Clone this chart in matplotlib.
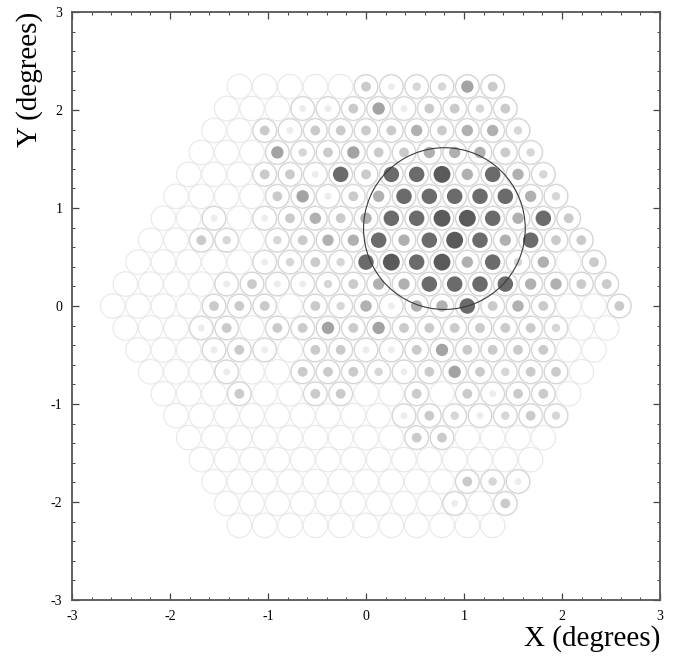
import numpy as np
import matplotlib
matplotlib.use('Agg')
import matplotlib.pyplot as plt
from matplotlib.patches import Circle
from matplotlib.collections import PatchCollection
from matplotlib.ticker import MultipleLocator

# ---- data: pixel amplitude level per camera row (left -> right) ----
row_ids = list(range(10, -11, -1))
amp_r10 = [0,0,0,0,0,3,1,2,2,5,3]
amp_r9  = [0,0,0,1,1,3,5,1,3,3,2,3]
amp_r8  = [0,0,3,1,3,3,3,3,4,3,4,4,2]
amp_r7  = [0,0,0,5,2,3,5,3,3,4,4,4,3,2]
amp_r6  = [0,0,0,3,3,1,7,3,7,7,8,4,7,4,2]
amp_r5  = [0,0,0,0,3,5,1,3,4,7,7,7,7,7,4,2]
amp_r4  = [0,0,1,0,1,3,4,3,4,7,7,8,8,7,4,7,3]
amp_r3  = [0,0,3,2,0,2,3,4,4,7,4,7,8,7,4,7,3,3]
amp_r2  = [0,0,0,0,0,1,2,3,2,7,8,7,8,4,7,2,4,0,3]
amp_r1  = [0,0,0,0,1,3,1,1,2,3,4,4,7,7,7,7,4,4,3,3]
amp_r0  = [0,0,0,0,3,3,3,0,3,2,4,1,4,4,7,3,4,3,0,0,3]
amp_m1  = [0,0,0,1,3,0,3,3,5,3,5,3,3,3,3,3,3,2,0,0]
amp_m2  = [0,0,0,1,3,1,0,3,3,1,1,3,5,3,3,3,3,0,0]
amp_m3  = [0,0,0,1,0,0,3,3,3,2,1,3,5,3,2,3,3,0]
amp_m4  = [0,0,0,3,0,0,3,3,0,0,3,0,3,1,3,3,0]
amp_m5  = [0,0,0,0,0,0,0,0,0,1,3,2,1,2,3,2]
amp_m6  = [0,0,0,0,0,0,0,0,0,3,3,0,0,0,0]
amp_m7  = [0,0,0,0,0,0,0,0,0,0,0,0,0,0]
amp_m8  = [0,0,0,0,0,0,0,0,0,0,3,2,1]
amp_m9  = [0,0,0,0,0,0,0,0,0,1,0,3]
amp_m10 = [0,0,0,0,0,0,0,0,0,0,0]
rows = [amp_r10, amp_r9, amp_r8, amp_r7, amp_r6, amp_r5, amp_r4, amp_r3, amp_r2,
        amp_r1, amp_r0, amp_m1, amp_m2, amp_m3, amp_m4, amp_m5, amp_m6, amp_m7,
        amp_m8, amp_m9, amp_m10]

fit_center = (0.80, 0.79)
fit_radius = 0.825
tick_vals = [-3, -2, -1, 0, 1, 2, 3]

# ---- styles ----
pitch = 0.2585
level_gray = {1: '#ececec', 2: '#d6d6d6', 3: '#cacaca', 4: '#b0b0b0', 5: '#a3a3a3',
              6: '#888888', 7: '#6b6b6b', 8: '#5a5a5a'}
level_rad = {1: 0.035, 2: 0.043, 3: 0.050, 4: 0.058, 5: 0.063, 6: 0.072, 7: 0.079, 8: 0.086}

plt.rcParams['font.family'] = ['Liberation Serif', 'DejaVu Serif']
plt.rcParams['axes.unicode_minus'] = False
fig = plt.figure(figsize=(6.74, 6.56), dpi=100)
ax = fig.add_axes([72/674, 56/656, 588/674, 588/656])

faint, active, dots, dcols = [], [], [], []
for k, vals in zip(row_ids, rows):
    n = len(vals)
    y = k * pitch * np.sqrt(3) / 2
    for j, v in enumerate(vals):
        x = (j - (n - 1) / 2) * pitch
        faint.append(Circle((x, y), 0.125))
        if v > 0:
            active.append(Circle((x, y), 0.119))
            dots.append(Circle((x, y), level_rad[v]))
            dcols.append(level_gray[v])

ax.add_collection(PatchCollection(faint, facecolor='none', edgecolor='#e8e8e8', linewidth=0.8))
ax.add_collection(PatchCollection(active, facecolor='none', edgecolor='#cdcdcd', linewidth=0.6))
ax.add_collection(PatchCollection(dots, facecolors=dcols, edgecolor='none'))
ax.add_patch(Circle(fit_center, fit_radius, facecolor='none', edgecolor='#3a3a3a', linewidth=0.8))

ax.set_xlim(-3, 3)
ax.set_ylim(-3, 3)
ax.set_aspect('equal', adjustable='box')
ax.set_xticks(tick_vals)
ax.set_yticks(tick_vals)
ax.xaxis.set_minor_locator(MultipleLocator(0.2))
ax.yaxis.set_minor_locator(MultipleLocator(0.2))
ax.tick_params(which='both', direction='in', top=True, right=True, color='#444444',
               labelsize=10, pad=7)
ax.tick_params(which='major', length=5, width=0.9)
ax.tick_params(which='minor', length=2.5, width=0.7)
for s in ax.spines.values():
    s.set_color('#555555')
    s.set_linewidth(1.3)

fig.text(660/674, (656-646)/656, 'X (degrees)', ha='right', va='baseline', fontsize=21)
fig.text(30/674, (656-12)/656, 'Y (degrees)', ha='center', va='top', rotation=90, fontsize=21)

fig.savefig('out.png', dpi=100, facecolor='white')
